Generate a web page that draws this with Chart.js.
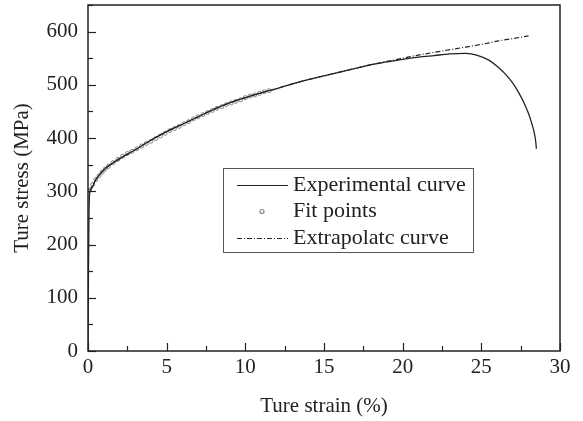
<!DOCTYPE html>
<html><head><meta charset="utf-8">
<script src="https://cdn.jsdelivr.net/npm/chart.js@4/dist/chart.umd.min.js"></script>
<style>html,body{margin:0;padding:0;background:#fff}canvas{display:block}</style>
</head><body>
<canvas id="c" width="583" height="421"></canvas>
<script>
const expStrain = [0, 0.03, 0.06, 0.1, 0.2, 0.5, 1, 2, 3, 4, 5, 6, 7, 8, 9, 10, 11, 12, 13, 14, 15, 16, 17, 18, 19, 20, 21, 22, 23, 24, 24.7, 25.5, 26, 26.5, 27, 27.4, 27.7, 28, 28.2, 28.35, 28.45, 28.5];
const expStress = [0, 150, 250, 295, 304, 322, 340, 361, 378, 396, 412, 426, 440, 454, 466, 476, 485, 493, 502, 510, 517, 524, 531, 538, 543, 548, 552, 555, 558, 559, 556, 546, 535, 521, 503, 484, 467, 446, 428, 412, 395, 380];
const fitStrain = [0.1, 0.3, 0.5, 0.7, 0.9, 1.1, 1.3, 1.6, 1.9, 2.2, 2.5, 2.8, 3.1, 3.4, 3.7, 4.0, 4.3, 4.6, 4.9, 5.2, 5.5, 5.8, 6.1, 6.4, 6.7, 7.0, 7.3, 7.6, 7.9, 8.2, 8.5, 8.8, 9.1, 9.4, 9.7, 10.0, 10.3, 10.6, 10.9, 11.2, 11.5];
const fitStress = [302, 313, 322, 329, 336, 342, 347, 354, 360, 366, 371, 375, 380, 385, 390, 394, 399, 404, 409, 414, 418, 422, 427, 431, 436, 440, 444, 448, 452, 456, 459, 463, 466, 469, 472, 476, 479, 481, 484, 487, 489];
const extStrain = [0.1, 0.5, 1, 2, 3, 4, 5, 6, 7, 8, 9, 10, 11, 12, 13, 14, 15, 16, 17, 18, 19, 20, 21, 22, 23, 24, 25, 26, 27, 28];
const extStress = [302, 322, 340, 362, 378, 396, 412, 426, 440, 454, 466, 476, 485, 493, 502, 510, 517, 524, 531, 538, 544, 550, 556, 561, 566, 571, 576, 582, 587, 592];
const seriesNames = ['Experimental curve', 'Fit points', 'Extrapolatc curve'];
const xTitle = 'Ture strain (%)';
const yTitle = 'Ture stress (MPa)';

const pts = (xs, ys) => xs.map((x, i) => ({x, y: ys[i]}));
const FONT = '"Liberation Serif", "Times New Roman", serif';
const FS = 21;
const INK = '#222';

const framePlugin = {
  id: 'frame',
  afterDraw(chart) {
    const {ctx, chartArea: a, scales} = chart;
    ctx.save();
    ctx.strokeStyle = INK;
    ctx.lineWidth = 1.5;
    ctx.strokeRect(a.left, a.top, a.right - a.left, a.bottom - a.top);
    ctx.lineWidth = 1.2;
    scales.x.ticks.forEach(t => {
      const px = Math.round(scales.x.getPixelForValue(t.value)) + 0.5;
      const len = (Math.abs(t.value % 5) < 1e-6) ? 8 : 5;
      ctx.beginPath(); ctx.moveTo(px, a.bottom); ctx.lineTo(px, a.bottom - len); ctx.stroke();
    });
    scales.y.ticks.forEach(t => {
      const py = Math.round(scales.y.getPixelForValue(t.value)) + 0.5;
      const len = (Math.abs(t.value % 100) < 1e-6) ? 8 : 5;
      ctx.beginPath(); ctx.moveTo(a.left, py); ctx.lineTo(a.left + len, py); ctx.stroke();
    });
    // legend
    const bx = 223, by = 168, bw = 250, bh = 84;
    ctx.fillStyle = '#fff';
    ctx.fillRect(bx, by, bw, bh);
    ctx.strokeStyle = '#555';
    ctx.lineWidth = 1;
    ctx.strokeRect(bx + 0.5, by + 0.5, bw, bh);
    const rows = [185, 211, 238];
    ctx.font = '22px ' + FONT;
    ctx.textBaseline = 'middle';
    ctx.fillStyle = INK;
    chart.data.datasets.forEach((ds, i) => {
      const y = rows[i];
      ctx.strokeStyle = ds.borderColor;
      ctx.lineWidth = 1.2;
      if (i === 1) {
        ctx.beginPath(); ctx.arc(262, y + 0.5, 2, 0, Math.PI * 2); ctx.stroke();
      } else {
        ctx.setLineDash(ds.borderDash || []);
        ctx.beginPath(); ctx.moveTo(237, y + 0.5); ctx.lineTo(288, y + 0.5); ctx.stroke();
        ctx.setLineDash([]);
      }
      ctx.fillText(ds.label, 293, y);
    });
    ctx.restore();
  }
};

new Chart(document.getElementById('c'), {
  type: 'scatter',
  data: {
    datasets: [
      {label: seriesNames[0], data: pts(expStrain, expStress), showLine: true, borderColor: '#222', borderWidth: 1.3, pointRadius: 0, cubicInterpolationMode: 'monotone'},
      {label: seriesNames[1], data: pts(fitStrain, fitStress), showLine: false, borderColor: '#888', backgroundColor: 'rgba(0,0,0,0)', borderWidth: 1, pointRadius: 2, pointStyle: 'circle'},
      {label: seriesNames[2], data: pts(extStrain, extStress), showLine: true, borderColor: '#222', borderWidth: 1.2, borderDash: [5, 2, 1, 2], pointRadius: 0, cubicInterpolationMode: 'monotone'}
    ]
  },
  options: {
    responsive: false,
    animation: false,
    layout: {padding: {left: 0, top: 5, right: 23, bottom: 0}},
    plugins: {legend: {display: false}, tooltip: {enabled: false}},
    scales: {
      x: {
        type: 'linear', min: 0, max: 30,
        afterFit: s => { s.height = 70; },
        grid: {display: false, drawTicks: false},
        border: {display: false},
        ticks: {stepSize: 2.5, padding: 4, color: INK, font: {family: FONT, size: FS},
          maxRotation: 0, autoSkip: false,
          callback: v => (Math.abs(v % 5) < 1e-6 ? String(v) : '')},
        title: {display: true, text: xTitle, color: INK, font: {family: FONT, size: FS}, padding: {top: 0, bottom: 2}}
      },
      y: {
        type: 'linear', min: 0, max: 650,
        afterFit: s => { s.width = 88; s.paddingTop = 0; },
        grid: {display: false, drawTicks: false},
        border: {display: false},
        ticks: {stepSize: 50, padding: 10, color: INK, font: {family: FONT, size: FS}, autoSkip: false,
          callback: v => (v % 100 === 0 ? String(v) : '')},
        title: {display: true, text: yTitle, color: INK, font: {family: FONT, size: FS}, padding: {top: 10, bottom: 0}}
      }
    }
  },
  plugins: [framePlugin]
});
</script>
</body></html>
